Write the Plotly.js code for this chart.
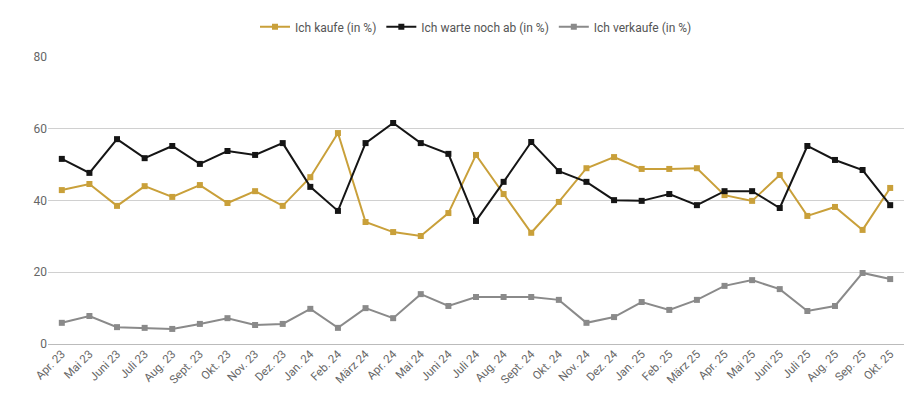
<!DOCTYPE html>
<html><head><meta charset="utf-8">
<script src="https://cdn.plot.ly/plotly-3.0.1.min.js"></script>
<style>html,body{margin:0;padding:0;background:#fff}</style>
</head><body>
<div id="chart" style="width:924px;height:407px"></div>
<script>
var months = ["Apr. 23","Mai 23","Juni 23","Juli 23","Aug. 23","Sept. 23","Okt. 23","Nov. 23","Dez. 23",
  "Jan. 24","Feb. 24","März 24","Apr. 24","Mai 24","Juni 24","Juli 24","Aug. 24","Sept. 24","Okt. 24","Nov. 24","Dez. 24",
  "Jan. 25","Feb. 25","März 25","Apr. 25","Mai 25","Juni 25","Juli 25","Aug. 25","Sep. 25","Okt. 25"];
var kaufe = [42.9,44.6,38.5,44,41,44.3,39.3,42.6,38.5,46.5,58.8,34,31.2,30.1,36.5,52.7,41.8,31,39.6,49,52.1,48.8,48.8,49,41.5,39.9,47.1,35.7,38.2,31.8,43.5];
var warte = [51.6,47.7,57.1,51.8,55.2,50.2,53.8,52.7,56,43.8,37.1,56,61.6,56,53,34.3,45.2,56.3,48.2,45.2,40.1,39.9,41.8,38.7,42.6,42.6,37.9,55.2,51.3,48.5,38.7];
var verkaufe = [5.9,7.8,4.7,4.5,4.2,5.6,7.2,5.3,5.6,9.8,4.5,10,7.2,13.9,10.6,13.1,13.1,13.1,12.3,5.9,7.5,11.7,9.5,12.3,16.2,17.8,15.3,9.2,10.6,19.8,18.1];

function tr(name, y, color) {
  return {x: months, y: y, name: name, type: "scatter", mode: "lines+markers",
    line: {color: color, width: 2}, marker: {symbol: "square", size: 6, color: color}};
}
var data = [tr("Ich kaufe (in %)", kaufe, "#c9a03a"),
            tr("Ich warte noch ab (in %)", warte, "#151515"),
            tr("Ich verkaufe (in %)", verkaufe, "#8a8a8a")];
var layout = {
  width: 924, height: 407,
  margin: {l: 48, r: 20, t: 57, b: 63},
  font: {family: "Roboto, sans-serif", color: "#666", size: 12},
  showlegend: true,
  legend: {orientation: "h", x: 0.5, xanchor: "center", y: 1.105, yanchor: "middle",
    itemwidth: 30, font: {size: 12, color: "#555"}},
  xaxis: {type: "category", range: [-0.5, 30.5], tickangle: -45, showgrid: false, ticks: "",
    tickfont: {size: 11.5, color: "#666"}},
  yaxis: {range: [0, 80], dtick: 20, gridcolor: "#d0d0d0", zeroline: true, zerolinecolor: "#bbb",
    tickfont: {size: 12, color: "#666"}, ticks: "", ticklen: 6},
  plot_bgcolor: "#fff", paper_bgcolor: "#fff"
};
Plotly.newPlot("chart", data, layout, {displayModeBar: false});
</script>
</body></html>
